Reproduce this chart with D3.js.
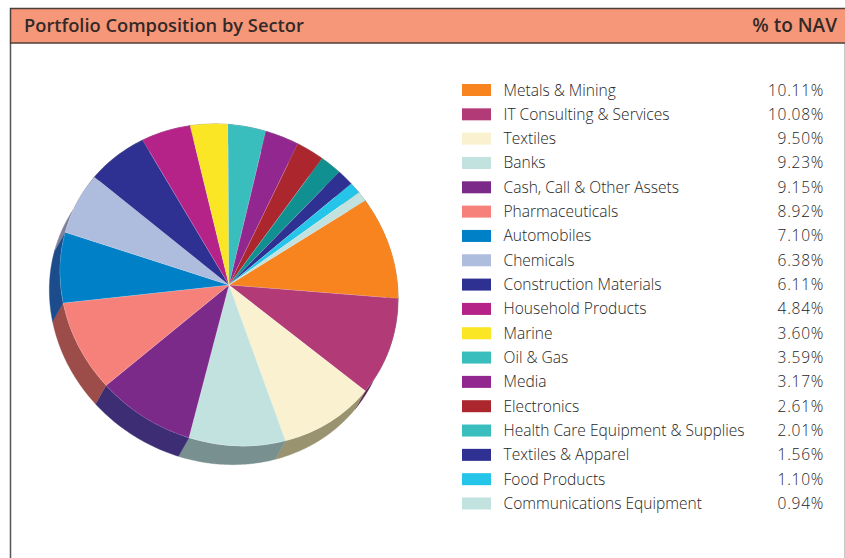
<!DOCTYPE html>
<html><head><meta charset="utf-8">
<script src="https://d3js.org/d3.v7.min.js"></script>
<style>html,body{margin:0;padding:0;background:#fff}svg{display:block}</style>
</head><body><svg id="c" width="845" height="558"></svg>
<script>
const categories=["Metals & Mining","IT Consulting & Services","Textiles","Banks","Cash, Call & Other Assets","Pharmaceuticals","Automobiles","Chemicals","Construction Materials","Household Products","Marine","Oil & Gas","Media","Electronics","Health Care Equipment & Supplies","Textiles & Apparel","Food Products","Communications Equipment"];
const values=[10.11,10.08,9.50,9.23,9.15,8.92,7.10,6.38,6.11,4.84,3.60,3.59,3.17,2.61,2.01,1.56,1.10,0.94];
const legendColors=["#f7841e","#b23a76","#f9f1cf","#c2e2df","#7c2a8a","#f6817a","#0080c6","#aebcdd","#2e3192","#b52389","#fbe625","#39bdbd","#92278f","#ab272d","#39bdbd","#2e3192","#25c4e9","#c2e2df"];
const pieColors=["#f7841e","#b23a76","#f9f1cf","#c2e2df","#7c2a8a","#f6817a","#0080c6","#aebcdd","#2e3192","#b52389","#fbe625","#39bdbd","#92278f","#ab272d","#109090","#2e3192","#25c4e9","#c2e2df"];
const sideColors=["#94500f","#5a2050","#99936f","#789090","#3c2d74","#9c4d4a","#1c4c8c","#80809c","#1c1d5c","#6d1552","#978a16","#227272","#581757","#671719","#0a5656","#1c1d5c","#16768c","#748886"];
const title="Portfolio Composition by Sector", unitLabel="% to NAV";

const svg=d3.select("#c");
const font="'Open Sans',sans-serif";
// frame
svg.append("path").attr("d","M10.5 43V558").attr("stroke","#555555").attr("stroke-width",1.5).attr("fill","none");
svg.append("path").attr("d","M844.5 43V558").attr("stroke","#c8c8c8").attr("fill","none");
svg.append("rect").attr("x",10.5).attr("y",8.5).attr("width",840).attr("height",34.5).attr("fill","#f7977a").attr("stroke","#4d3f3a").attr("stroke-width",1.5);
svg.append("text").attr("x",24).attr("y",32).text(title).attr("font-family",font).attr("font-size",18.3).attr("font-weight",600).attr("fill","#332a27");
svg.append("text").attr("x",837).attr("y",32).attr("text-anchor","end").text(unitLabel).attr("font-family",font).attr("font-size",19).attr("font-weight",600).attr("fill","#332a27");

// pie
const cx=229,cy=285,rx=169,ry=161,skew=0.042,R=1000,dx=-10.5,dy=18.5;
const start=56*Math.PI/180;
const pie=d3.pie().sort(null).value(d=>d).startAngle(start).endAngle(start+2*Math.PI);
const arcs=pie(values);
const arc=d3.arc().innerRadius(0).outerRadius(R);
const project=a=>{const x=Math.sin(a),y=-Math.cos(a);return [cx+rx*(x+skew*y),cy+ry*(y+skew*x)];};
const line=d3.line();
svg.append("g").selectAll("path").data(arcs).join("path").attr("fill",(d,i)=>sideColors[i]).attr("d",d=>{
  const n=Math.max(2,Math.ceil((d.endAngle-d.startAngle)*60));
  const top=d3.range(n+1).map(k=>project(d.startAngle+(d.endAngle-d.startAngle)*k/n));
  const bottom=top.slice().reverse().map(p=>[p[0]+dx,p[1]+dy]);
  return line(top.concat(bottom))+"Z";
}).attr("stroke",(d,i)=>sideColors[i]).attr("stroke-width",0.4);
svg.append("g").attr("transform",`matrix(${rx/R},${ry*skew/R},${rx*skew/R},${ry/R},${cx},${cy})`)
  .selectAll("path").data(arcs).join("path").attr("d",arc).attr("fill",(d,i)=>pieColors[i])
  .attr("stroke","#ffffff").attr("stroke-opacity",0.25).attr("stroke-width",0.5).attr("vector-effect","non-scaling-stroke");

// legend
const y=d3.scalePoint().domain(categories).range([90,503.5]);
const lg=svg.append("g").selectAll("g").data(categories).join("g").attr("transform",d=>`translate(0,${y(d)})`);
lg.append("rect").attr("x",462).attr("y",-6).attr("width",29).attr("height",12).attr("fill",(d,i)=>legendColors[i]);
lg.append("text").attr("x",503.5).attr("y",5.5).text(d=>d).attr("font-family",font).attr("font-size",15.55).attr("font-weight",300).attr("fill","#262626");
lg.append("text").attr("x",824).attr("y",5.5).attr("text-anchor","end").text((d,i)=>values[i].toFixed(2)+"%").attr("font-family",font).attr("font-size",15.55).attr("font-weight",300).attr("letter-spacing",0.7).attr("fill","#262626");
</script></body></html>
